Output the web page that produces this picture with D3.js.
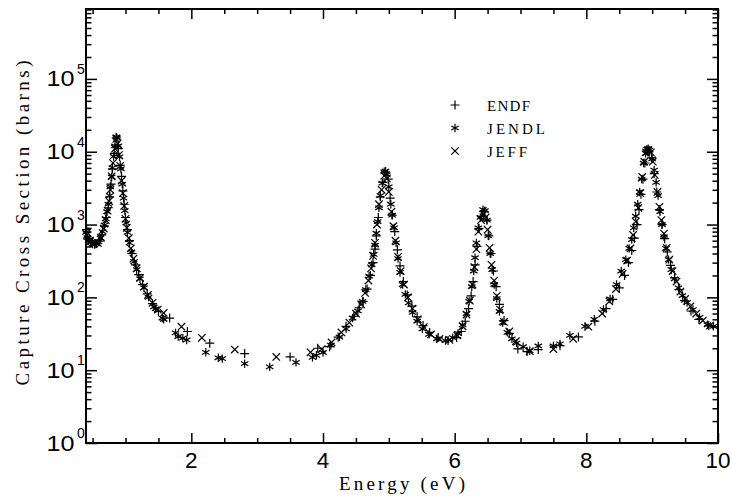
<!DOCTYPE html>
<meta charset="utf-8">
<style>
  body { margin: 0; background: #fff; }
  .tick-label { font: 22px "Liberation Sans", Arial, sans-serif; fill: #000; }
  .tick-sup { font: 14px "Liberation Sans", Arial, sans-serif; fill: #000; }
  .title { font: 19px "Liberation Serif", serif; fill: #000; }
  .legend { font: 15px "Liberation Serif", serif; fill: #000; }
  .mark { fill: none; stroke: #000; stroke-width: 1.2px; }
  .axis line { stroke: #000; stroke-width: 1.5px; }
</style>
<svg width="731" height="499"></svg>
<script src="https://d3js.org/d3.v7.min.js"></script>
<script>
  // capture cross section, [energy eV, barns]
  var endf = [
    [0.41, 850], [0.45, 650], [0.50, 570], [0.55, 545], [0.60, 590], [0.64, 720], [0.68, 950],
    [0.71, 1250], [0.74, 1700], [0.76, 2400], [0.78, 3600], [0.80, 5800], [0.83, 9500], [0.86, 15500],
    [0.89, 11000], [0.92, 6500], [0.94, 4600], [0.96, 2900], [0.98, 1900], [1.00, 1250], [1.03, 850],
    [1.06, 600], [1.10, 400], [1.15, 280], [1.20, 205], [1.26, 150], [1.33, 112], [1.41, 82],
    [1.50, 64], [1.67, 52], [1.94, 34], [2.28, 23.5], [2.81, 16.9], [3.50, 15.2], [3.92, 20],
    [4.10, 21], [4.23, 28.5], [4.35, 40], [4.47, 55], [4.55, 72], [4.61, 88], [4.67, 130],
    [4.72, 200], [4.76, 300], [4.79, 460], [4.81, 700], [4.84, 1250], [4.87, 2400], [4.91, 3800],
    [4.95, 5300], [4.99, 4200], [5.02, 2300], [5.05, 1350], [5.09, 800], [5.13, 450], [5.17, 270],
    [5.22, 165], [5.28, 108], [5.35, 76], [5.43, 54], [5.52, 41], [5.62, 33], [5.75, 28],
    [5.90, 25.5], [6.03, 28], [6.10, 34], [6.16, 47], [6.21, 70], [6.25, 105], [6.28, 165],
    [6.31, 280], [6.34, 500], [6.37, 880], [6.41, 1300], [6.45, 1500], [6.49, 1150], [6.52, 700],
    [6.55, 400], [6.59, 230], [6.63, 140], [6.68, 80], [6.75, 48], [6.83, 32], [6.96, 19.6],
    [7.10, 18], [7.27, 19.2], [7.60, 21.7], [7.88, 28.6], [8.13, 47], [8.30, 70], [8.40, 94],
    [8.50, 135], [8.58, 200], [8.64, 300], [8.69, 440], [8.73, 650], [8.77, 1000], [8.80, 1600],
    [8.83, 2600], [8.86, 4200], [8.89, 7000], [8.92, 10500], [8.95, 10000], [8.99, 8200],
    [9.03, 5000], [9.07, 2800], [9.11, 1600], [9.15, 1000], [9.19, 640], [9.23, 420], [9.28, 275],
    [9.34, 185], [9.41, 128], [9.49, 90], [9.59, 65], [9.71, 50], [9.86, 41]
  ]

  var jendl = [
    [0.40, 780], [0.42, 660], [0.44, 600], [0.47, 570], [0.50, 540], [0.53, 530], [0.56, 545],
    [0.59, 580], [0.62, 650], [0.65, 800], [0.68, 980], [0.70, 1200], [0.72, 1500], [0.74, 1900],
    [0.76, 2500], [0.77, 3300], [0.79, 4500], [0.80, 6000], [0.82, 8600], [0.84, 12000],
    [0.86, 16000], [0.87, 15500], [0.89, 12000], [0.91, 8500], [0.93, 5800], [0.95, 3600],
    [0.97, 2300], [0.99, 1550], [1.01, 1050], [1.03, 780], [1.06, 560], [1.09, 420], [1.13, 310],
    [1.17, 240], [1.22, 180], [1.28, 135], [1.35, 100], [1.43, 74], [1.46, 70], [1.56, 52],
    [1.58, 50], [1.76, 32.5], [1.80, 29], [1.87, 27.5], [1.93, 26], [2.22, 17.6], [2.41, 14.8],
    [2.47, 14.4], [2.81, 12.3], [3.19, 11.1], [3.59, 12.8], [3.84, 15], [3.90, 16], [4.00, 17.5],
    [4.12, 22], [4.25, 28.5], [4.35, 37], [4.45, 52], [4.53, 65], [4.60, 88], [4.65, 128],
    [4.70, 195], [4.74, 280], [4.77, 390], [4.79, 520], [4.81, 760], [4.83, 1100], [4.85, 1700],
    [4.87, 2500], [4.90, 3700], [4.93, 5300], [4.95, 5400], [4.97, 4800], [5.00, 3300],
    [5.03, 1900], [5.05, 1350], [5.08, 900], [5.11, 560], [5.14, 340], [5.17, 220], [5.21, 150],
    [5.25, 110], [5.30, 84], [5.36, 62], [5.43, 47], [5.51, 37], [5.61, 31], [5.73, 27],
    [5.86, 25.5], [5.97, 28], [6.05, 32], [6.12, 42], [6.18, 60], [6.22, 88], [6.26, 140],
    [6.29, 230], [6.31, 350], [6.33, 560], [6.36, 900], [6.39, 1250], [6.43, 1600], [6.46, 1550],
    [6.49, 1150], [6.51, 700], [6.54, 400], [6.57, 240], [6.60, 150], [6.64, 96], [6.68, 64],
    [6.73, 45], [6.80, 33], [6.87, 27], [6.94, 23.5], [7.04, 21], [7.14, 18.5], [7.27, 21.5],
    [7.50, 21.5], [7.60, 23], [7.75, 30], [7.98, 40], [8.12, 50], [8.26, 68], [8.36, 95],
    [8.46, 150], [8.53, 230], [8.60, 330], [8.65, 470], [8.69, 620], [8.72, 900], [8.75, 1300],
    [8.78, 1900], [8.81, 2800], [8.84, 4200], [8.87, 7000], [8.90, 9500], [8.92, 10800],
    [8.94, 11000], [8.96, 10500], [9.00, 8000], [9.03, 5600], [9.06, 3800], [9.09, 2500],
    [9.12, 1500], [9.15, 1000], [9.18, 680], [9.21, 470], [9.25, 330], [9.29, 240], [9.34, 180],
    [9.40, 135], [9.46, 106], [9.53, 85], [9.62, 68], [9.72, 53], [9.84, 42], [9.93, 40]
  ]

  var jeff = [
    [0.41, 720], [0.46, 600], [0.52, 550], [0.58, 560], [0.63, 660], [0.67, 880], [0.70, 1150],
    [0.73, 1550], [0.75, 2100], [0.77, 3000], [0.79, 4600], [0.81, 7000], [0.84, 11000],
    [0.86, 15000], [0.88, 13000], [0.90, 9000], [0.92, 6400], [0.94, 4000], [0.96, 2700],
    [0.98, 1800], [1.00, 1200], [1.02, 900], [1.05, 650], [1.08, 470], [1.12, 340], [1.17, 250],
    [1.22, 185], [1.28, 140], [1.34, 108], [1.41, 84], [1.49, 68], [1.58, 61], [1.85, 39.5],
    [2.16, 27.8], [2.66, 19.2], [3.29, 15.2], [3.81, 17.6], [3.98, 19.5], [4.13, 24], [4.28, 33],
    [4.40, 45], [4.50, 60], [4.58, 80], [4.64, 115], [4.69, 170], [4.73, 250], [4.76, 370],
    [4.79, 560], [4.82, 1000], [4.85, 1900], [4.89, 3000], [4.93, 4700], [4.97, 4300],
    [5.00, 2800], [5.04, 1500], [5.07, 950], [5.10, 600], [5.14, 360], [5.18, 230], [5.23, 150],
    [5.29, 100], [5.36, 70], [5.44, 50], [5.53, 39], [5.64, 31], [5.77, 27], [5.92, 26],
    [6.04, 30], [6.12, 40], [6.18, 58], [6.23, 90], [6.27, 150], [6.30, 260], [6.33, 460],
    [6.36, 800], [6.40, 1150], [6.44, 1400], [6.47, 1250], [6.50, 850], [6.53, 480], [6.56, 280],
    [6.60, 170], [6.64, 105], [6.69, 68], [6.75, 46], [6.83, 34], [6.93, 25], [7.14, 18.2],
    [7.50, 19.5], [7.80, 27], [8.03, 39.5], [8.24, 60], [8.35, 88], [8.45, 130], [8.55, 210],
    [8.62, 320], [8.67, 470], [8.71, 720], [8.75, 1100], [8.79, 1700], [8.82, 2700], [8.85, 4500],
    [8.88, 7300], [8.91, 9800], [8.94, 10500], [8.98, 9800], [9.01, 7300], [9.04, 4800],
    [9.08, 2800], [9.11, 1750], [9.14, 1150], [9.18, 750], [9.22, 480], [9.26, 330], [9.31, 230],
    [9.37, 165], [9.43, 120], [9.50, 95], [9.58, 75], [9.67, 60], [9.77, 48], [9.88, 41]
  ]

  var seriesNames = ["ENDF", "JENDL", "JEFF"]
  var xMajor = [2, 4, 6, 8, 10]
  var yDecades = [0, 1, 2, 3, 4, 5]

  var svg = d3.select("svg"),
    margin = { top: 9, right: 13, bottom: 56, left: 86 },
    width = 731 - margin.left - margin.right,
    height = 499 - margin.top - margin.bottom,
    g = svg.append("g").attr("transform", "translate(" + margin.left + "," + margin.top + ")")

  var x = d3.scaleLinear().domain([0.4, 10]).range([0, width])
  var y = d3.scaleLog().domain([1, Math.pow(10, 5.96)]).range([height, 0])

  var shapes = {
    ENDF: "M-4.5,0H4.5M0,-4.5V4.5",
    JENDL: "M0,-4.2V4.2M-3.7,-2.1L3.7,2.1M-3.7,2.1L3.7,-2.1",
    JEFF: "M-3.7,-3.7L3.7,3.7M-3.7,3.7L3.7,-3.7"
  }

  // ticks
  var xMinor = d3.range(1, 20).map(i => i / 2).filter(v => v % 2 !== 0)
  var yMajor = yDecades.map(d => Math.pow(10, d))
  var yMinor = []
  yDecades.forEach(d => d3.range(2, 10).forEach(k => {
    var v = k * Math.pow(10, d)
    if (v < y.domain()[1]) yMinor.push(v)
  }))

  function axis(gen, vals, size, tr) {
    g.append("g").attr("class", "axis").attr("transform", tr)
      .call(gen.tickValues(vals).tickSize(size).tickFormat(""))
      .call(s => s.select(".domain").remove())
  }
  axis(d3.axisBottom(x), xMajor, -10, "translate(0," + height + ")")
  axis(d3.axisBottom(x), xMinor, -5, "translate(0," + height + ")")
  axis(d3.axisTop(x), xMajor, -10, "translate(0,0)")
  axis(d3.axisTop(x), xMinor, -5, "translate(0,0)")
  axis(d3.axisLeft(y), yMajor, -11, "translate(0,0)")
  axis(d3.axisLeft(y), yMinor, -5.5, "translate(0,0)")
  axis(d3.axisRight(y), yMajor, -11, "translate(" + width + ",0)")
  axis(d3.axisRight(y), yMinor, -5.5, "translate(" + width + ",0)")

  g.append("rect")
    .attr("width", width).attr("height", height)
    .attr("fill", "none").attr("stroke", "#000").attr("stroke-width", 2)

  // tick labels
  g.selectAll(".xl").data(xMajor).enter().append("text")
    .attr("class", "tick-label")
    .attr("x", d => x(d)).attr("y", height + 24.5)
    .attr("text-anchor", "middle")
    .attr("textLength", d => String(d).length * 12.5)
    .attr("lengthAdjust", "spacingAndGlyphs")
    .text(d => d)

  var yl = g.selectAll(".yl").data(yDecades).enter()
  yl.append("text")
    .attr("class", "tick-label")
    .attr("x", -39.5).attr("y", d => y(Math.pow(10, d)) + 7.5)
    .attr("textLength", 28).attr("lengthAdjust", "spacingAndGlyphs")
    .text("10")
  yl.append("text")
    .attr("class", "tick-sup")
    .attr("x", -9).attr("y", d => y(Math.pow(10, d)) - 5)
    .text(d => d)

  // titles
  svg.append("text")
    .attr("class", "title")
    .attr("transform", "translate(28.5,223) rotate(-90)")
    .attr("text-anchor", "middle")
    .attr("textLength", 325).attr("lengthAdjust", "spacing")
    .text("Capture Cross Section (barns)")
  svg.append("text")
    .attr("class", "title")
    .attr("x", 402).attr("y", 490)
    .attr("text-anchor", "middle")
    .attr("textLength", 126).attr("lengthAdjust", "spacing")
    .text("Energy (eV)")

  // data markers
  var all = [endf, jendl, jeff]
  all.forEach((data, i) => {
    g.append("g").selectAll("path").data(data).enter().append("path")
      .attr("class", "mark")
      .attr("transform", d => "translate(" + x(d[0]) + "," + y(d[1]) + ")")
      .attr("d", shapes[seriesNames[i]])
  })

  // legend
  var leg = svg.append("g").attr("transform", "translate(455,105)")
  seriesNames.forEach((n, i) => {
    leg.append("path").attr("class", "mark")
      .attr("transform", "translate(0," + i * 23 + ")")
      .attr("d", shapes[n])
    leg.append("text").attr("class", "legend")
      .attr("x", 32).attr("y", i * 23 + 5.5)
      .attr("textLength", [43, 58, 40][i]).attr("lengthAdjust", "spacing")
      .text(n)
  })
</script>
